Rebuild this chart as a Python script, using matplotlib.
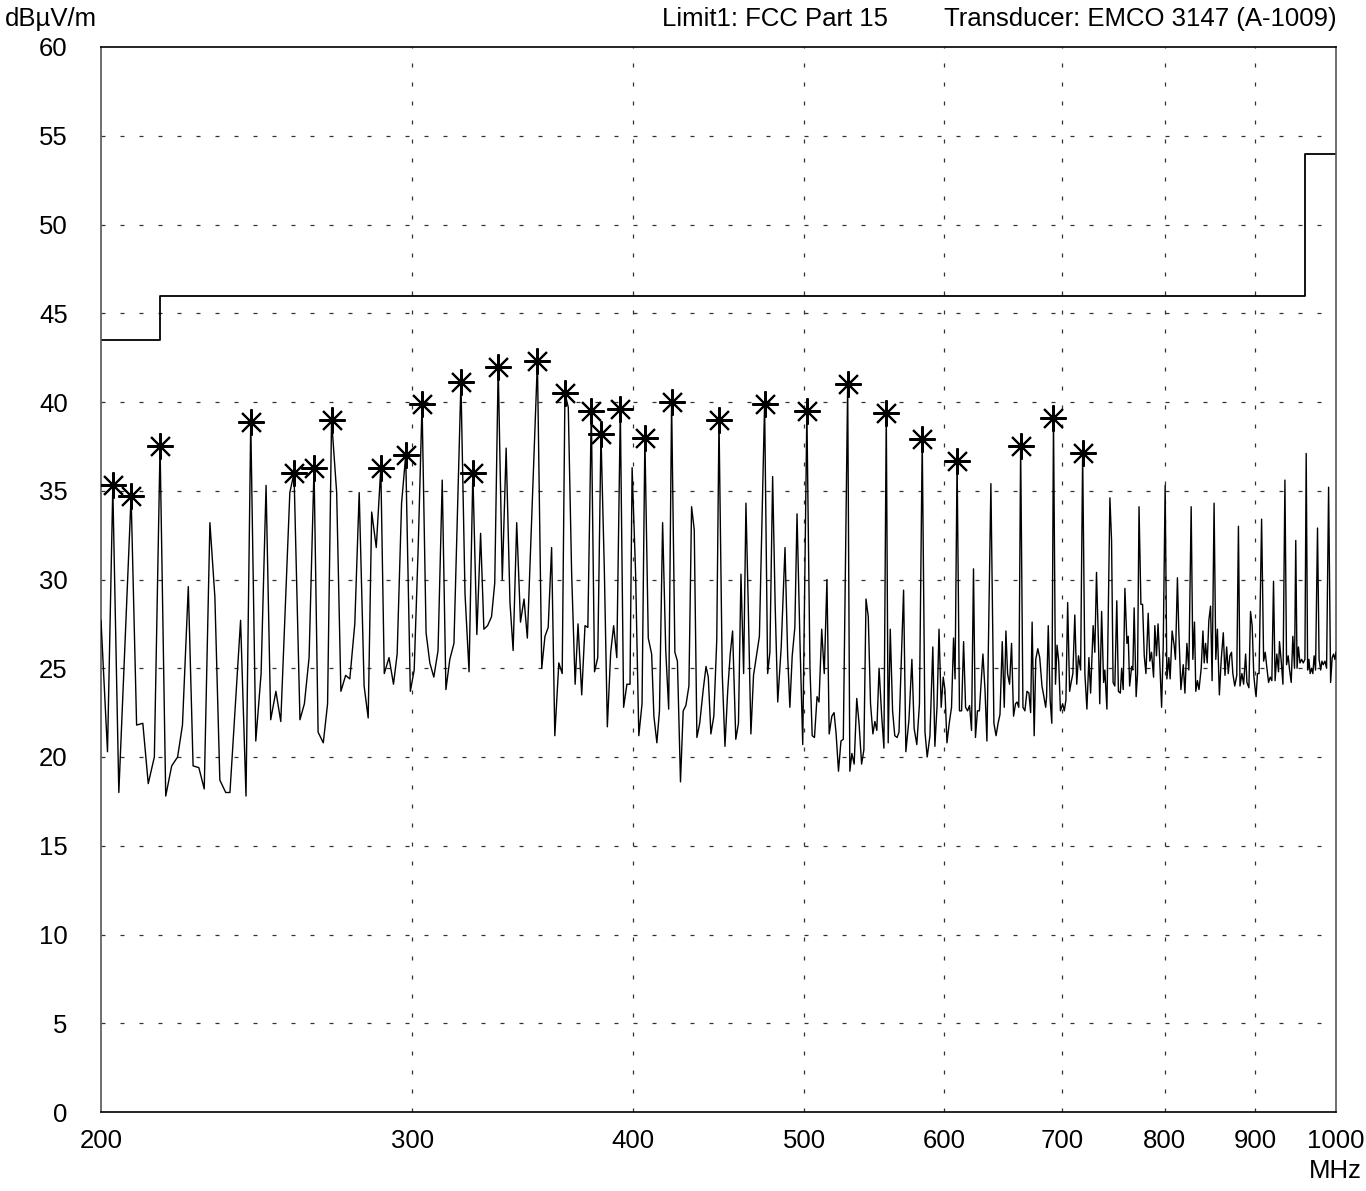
import numpy as np
import matplotlib
matplotlib.use("Agg")
import matplotlib.pyplot as plt
from matplotlib.ticker import FixedLocator, NullLocator, FixedFormatter

plt.rcParams['font.family'] = ['Liberation Sans', 'DejaVu Sans']

# ---- measured trace (MHz, dBuV/m) ----
trace_freq = [
    200.0, 201.7, 203.1, 204.7, 208.0, 209.5, 211.2, 212.7, 214.4, 216.0,
    217.6, 219.3, 221.0, 222.4, 224.1, 225.5, 227.2, 228.8, 230.5, 232.0,
    233.5, 235.3, 236.6, 239.9, 241.6, 243.1, 244.7, 246.4, 248.0, 249.5,
    251.2, 252.8, 255.8, 257.2, 259.2, 260.7, 262.3, 264.0, 265.4, 267.2,
    268.7, 270.1, 271.9, 273.4, 275.1, 276.6, 278.4, 280.0, 281.8, 283.3,
    284.6, 286.3, 288.0, 289.3, 291.1, 292.8, 294.2, 295.9, 297.5, 299.3,
    300.8, 302.4, 303.9, 305.5, 307.0, 308.6, 310.3, 312.0, 313.5, 315.1,
    316.8, 319.7, 321.4, 323.1, 324.7, 326.4, 328.0, 329.4, 331.0, 332.7,
    334.1, 335.6, 337.4, 339.1, 340.8, 342.2, 343.8, 345.5, 347.1, 348.6,
    353.2, 355.2, 356.7, 358.2, 359.8, 361.3, 363.2, 364.8, 366.1, 367.7,
    369.3, 371.0, 372.4, 374.2, 375.8, 377.2, 378.9, 380.5, 382.1, 383.7,
    385.4, 386.9, 388.6, 390.1, 391.7, 393.5, 395.2, 396.9, 398.5, 399.6,
    401.4, 403.1, 404.8, 406.3, 408.1, 409.9, 411.1, 412.7, 414.1, 415.8,
    417.5, 419.1, 420.7, 422.5, 423.9, 425.6, 427.1, 428.6, 430.3, 431.8,
    433.3, 434.8, 436.4, 438.4, 440.0, 441.3, 442.8, 444.5, 446.2, 447.5,
    449.4, 451.0, 452.6, 454.1, 455.5, 457.4, 459.0, 460.5, 462.1, 463.5,
    464.9, 466.5, 468.1, 469.9, 471.7, 474.9, 476.8, 478.2, 479.9, 481.5,
    483.1, 485.3, 487.7, 489.4, 490.8, 492.3, 494.0, 495.4, 497.3, 499.1,
    501.8, 503.8, 505.3, 506.8, 508.5, 509.8, 511.6, 513.3, 515.1, 516.6,
    518.4, 519.9, 521.3, 522.9, 524.6, 526.2, 529.2, 530.7, 532.1, 533.7,
    535.5, 537.1, 538.9, 540.5, 542.0, 543.6, 545.2, 546.9, 548.3, 549.7,
    551.3, 553.2, 554.8, 556.5, 557.9, 559.4, 561.1, 562.7, 564.4, 565.8,
    569.2, 570.9, 573.2, 575.4, 577.1, 579.1, 581.1, 583.2, 585.3, 587.0,
    589.1, 591.3, 592.9, 594.6, 596.1, 597.8, 599.4, 600.7, 602.3, 604.1,
    605.9, 607.5, 608.7, 610.3, 612.2, 613.9, 615.5, 617.1, 618.7, 620.3,
    621.9, 623.5, 625.1, 626.7, 628.3, 631.2, 632.9, 634.5, 637.8, 640.3,
    642.1, 643.8, 645.4, 647.3, 649.0, 650.4, 651.8, 653.5, 655.2, 656.9,
    658.6, 659.9, 661.4, 663.0, 665.0, 666.7, 668.5, 670.2, 671.7, 673.0,
    674.8, 676.2, 678.0, 679.7, 681.7, 683.4, 685.0, 685.8, 687.3, 689.0,
    690.5, 692.0, 693.8, 695.2, 696.7, 698.3, 700.3, 701.8, 703.3, 704.9,
    706.7, 708.1, 709.7, 711.5, 713.3, 714.9, 716.9, 718.8, 720.9, 722.8,
    724.7, 726.3, 728.7, 730.3, 731.9, 734.0, 735.0, 736.8, 738.7, 739.9,
    741.9, 744.8, 746.4, 747.9, 749.6, 751.5, 753.1, 755.0, 756.3, 757.8,
    759.5, 761.5, 762.8, 764.2, 766.2, 767.4, 768.7, 770.7, 772.1, 773.6,
    775.5, 777.2, 778.9, 780.6, 782.9, 784.6, 786.3, 788.4, 789.7, 791.4,
    793.0, 794.7, 796.7, 798.4, 800.4, 802.2, 804.3, 805.6, 807.7, 809.8,
    811.2, 813.3, 814.7, 817.0, 819.5, 821.3, 823.4, 825.5, 828.0, 829.8,
    831.6, 833.0, 834.8, 836.5, 838.9, 840.8, 842.2, 843.7, 845.5, 847.3,
    849.2, 850.9, 853.1, 855.0, 856.8, 859.0, 861.1, 863.4, 865.3, 867.2,
    869.0, 870.8, 872.7, 874.2, 876.4, 878.7, 880.6, 882.4, 884.6, 886.6,
    888.9, 890.4, 892.7, 894.6, 896.5, 898.4, 899.6, 901.1, 902.7, 904.6,
    907.6, 910.0, 911.9, 913.9, 915.9, 917.8, 919.8, 921.8, 923.7, 925.8,
    927.8, 929.0, 931.1, 933.2, 935.6, 937.6, 939.6, 941.3, 943.3, 945.3,
    947.4, 948.9, 950.5, 952.2, 954.1, 956.2, 958.2, 960.3, 961.9, 963.7,
    965.3, 966.9, 968.7, 970.3, 971.9, 973.7, 976.2, 978.2, 980.2, 981.8,
    983.5, 985.7, 987.8, 990.4, 993.0, 995.0, 996.8, 998.5, 1000.0,
]
trace_level = [
    27.7, 20.3, 35.2, 18.0, 34.7, 21.8, 21.9, 18.5, 20.0, 37.5,
    17.8, 19.5, 20.0, 21.8, 29.6, 19.5, 19.4, 18.2, 33.2, 29.0,
    18.7, 18.0, 18.0, 27.7, 17.8, 38.9, 20.9, 24.7, 35.3, 22.1,
    23.7, 22.0, 34.9, 36.0, 22.1, 23.0, 25.6, 36.3, 21.4, 20.8,
    23.0, 39.0, 34.9, 23.7, 24.6, 24.4, 27.5, 34.9, 24.0, 22.2,
    33.8, 31.8, 36.3, 24.7, 25.6, 24.1, 25.8, 34.3, 37.0, 23.7,
    24.9, 31.9, 39.9, 27.0, 25.3, 24.5, 26.0, 35.6, 23.8, 25.5,
    26.4, 41.1, 29.2, 24.8, 36.0, 26.9, 32.6, 27.2, 27.4, 27.9,
    29.8, 42.0, 30.0, 37.4, 28.7, 26.0, 33.2, 27.6, 28.9, 26.7,
    42.3, 25.0, 26.8, 27.3, 31.8, 21.2, 25.3, 24.7, 40.5, 39.7,
    30.4, 24.1, 27.5, 23.5, 27.4, 27.3, 39.5, 24.8, 25.6, 38.2,
    30.5, 21.7, 25.9, 27.4, 25.6, 39.6, 22.8, 24.1, 24.1, 36.3,
    30.4, 21.2, 23.0, 38.0, 26.7, 25.8, 22.3, 20.8, 22.6, 33.2,
    26.0, 22.7, 40.0, 25.9, 25.4, 18.6, 22.6, 22.9, 24.0, 34.1,
    32.8, 21.1, 21.9, 23.8, 25.1, 24.5, 21.3, 22.3, 26.6, 39.0,
    24.7, 20.6, 23.7, 25.8, 27.1, 21.0, 21.9, 30.3, 24.7, 34.3,
    28.5, 21.3, 24.6, 25.7, 26.8, 39.9, 24.7, 25.9, 35.8, 28.5,
    23.1, 26.2, 31.8, 25.7, 22.8, 25.7, 27.3, 33.7, 26.5, 20.7,
    39.5, 25.1, 21.2, 21.1, 23.4, 23.1, 27.2, 24.7, 30.0, 21.3,
    22.3, 22.5, 21.3, 19.2, 20.9, 21.0, 41.0, 19.2, 20.2, 19.6,
    23.3, 21.9, 19.6, 20.4, 28.9, 27.9, 23.0, 21.3, 22.0, 21.5,
    25.0, 22.3, 20.5, 39.4, 20.8, 27.2, 22.6, 21.2, 21.1, 21.4,
    29.4, 20.3, 22.1, 25.5, 21.6, 20.7, 23.0, 37.9, 21.4, 20.0,
    21.2, 26.2, 20.6, 22.9, 27.2, 22.8, 24.5, 23.8, 20.8, 21.9,
    22.8, 26.7, 24.4, 36.7, 22.6, 22.6, 26.5, 22.8, 22.6, 22.9,
    21.5, 30.6, 21.1, 22.6, 22.6, 25.8, 23.8, 20.9, 35.4, 21.9,
    21.2, 21.9, 22.4, 26.5, 22.8, 27.1, 24.7, 24.1, 26.4, 22.3,
    23.0, 23.1, 22.8, 37.5, 22.8, 22.6, 23.7, 23.6, 22.5, 27.6,
    21.2, 25.5, 26.1, 25.6, 24.0, 23.4, 22.8, 23.4, 27.4, 23.2,
    21.9, 39.1, 24.1, 26.3, 25.4, 22.6, 23.0, 22.6, 23.2, 28.7,
    23.7, 24.2, 24.7, 28.0, 24.1, 25.7, 24.9, 37.1, 24.7, 22.7,
    25.6, 23.6, 27.4, 25.9, 30.4, 25.9, 23.0, 28.2, 24.2, 24.9,
    22.7, 34.6, 32.2, 24.2, 24.0, 28.8, 23.7, 23.6, 25.0, 23.8,
    29.5, 26.4, 26.8, 24.0, 25.1, 24.9, 28.4, 23.4, 24.7, 34.1,
    28.6, 28.6, 25.7, 24.7, 28.1, 25.4, 25.9, 24.5, 27.4, 25.7,
    27.5, 25.5, 22.8, 26.3, 35.3, 24.4, 25.6, 24.4, 27.1, 26.3,
    25.5, 30.1, 27.2, 23.8, 25.2, 23.6, 26.4, 24.9, 34.1, 25.5,
    27.6, 23.7, 24.3, 23.8, 25.0, 27.1, 25.3, 26.4, 25.3, 27.7,
    28.5, 24.3, 34.3, 25.5, 27.2, 23.5, 25.5, 27.0, 24.6, 26.2,
    24.7, 25.7, 25.9, 24.7, 24.0, 24.6, 33.0, 24.0, 24.7, 24.1,
    25.8, 24.2, 23.9, 28.2, 27.4, 24.6, 24.0, 23.4, 24.7, 24.7,
    33.4, 25.4, 25.9, 25.0, 24.2, 24.5, 24.3, 29.9, 24.3, 25.8,
    24.8, 26.5, 25.4, 24.1, 35.6, 25.2, 25.7, 24.9, 24.2, 26.8,
    25.0, 32.2, 25.0, 26.2, 25.3, 25.5, 25.3, 25.5, 37.1, 24.9,
    25.5, 24.7, 25.0, 24.7, 25.7, 24.9, 32.9, 25.5, 24.9, 25.4,
    25.2, 25.4, 25.0, 35.2, 24.2, 25.6, 25.8, 25.5, 25.9,
]

# ---- marked peaks ----
peak_freq = [203.1, 208.0, 216.0, 243.1, 257.2, 264.0, 270.1, 288.0, 297.5, 303.9,
             319.7, 324.7, 335.6, 353.2, 366.1, 378.9, 383.7, 393.5, 406.3, 420.7,
             447.5, 474.9, 501.8, 529.2, 556.5, 583.2, 610.3, 663.0, 692.0, 718.8]
peak_level = [35.3, 34.7, 37.5, 38.9, 36.0, 36.3, 39.0, 36.3, 37.0, 39.9,
              41.1, 36.0, 42.0, 42.3, 40.5, 39.5, 38.2, 39.6, 38.0, 40.0,
              39.0, 39.9, 39.5, 41.0, 39.4, 37.9, 36.7, 37.5, 39.1, 37.1]

# ---- FCC Part 15 limit ----
limit_freq = [200, 216, 216, 960, 960, 1000]
limit_level = [43.5, 43.5, 46, 46, 54, 54]

x_ticks = [200, 300, 400, 500, 600, 700, 800, 900, 1000]
y_ticks = list(range(0, 61, 5))

FS = 18.5

fig = plt.figure(figsize=(13.66, 11.91), dpi=100)
ax = fig.add_axes([101 / 1366, 1 - 1112 / 1191, 1235 / 1366, 1065 / 1191])

ax.set_xscale('log')
ax.set_xlim(200, 1000)
ax.set_ylim(0, 60)

# dotted grid
for xv in x_ticks[1:-1]:
    ax.axvline(xv, color='#333333', lw=0.9, ls=(0, (3.2, 12)), zorder=0)
for yv in y_ticks[1:-1]:
    ax.axhline(yv, color='#333333', lw=0.9, ls=(0, (3.2, 12)), zorder=0)

ax.plot(limit_freq, limit_level, color='black', lw=1.3, zorder=2)
ax.plot(trace_freq, trace_level, color='black', lw=1.0, zorder=3)
ax.plot(peak_freq, peak_level, ls='none', marker=(8, 2, 0), ms=19,
        mec='black', mew=1.5, zorder=4)

ax.xaxis.set_major_locator(FixedLocator(x_ticks))
ax.xaxis.set_major_formatter(FixedFormatter([str(v) for v in x_ticks]))
ax.xaxis.set_minor_locator(NullLocator())
ax.set_yticks(y_ticks)
ax.tick_params(axis='both', length=0, labelsize=FS)
ax.tick_params(axis='x', pad=12)
ax.tick_params(axis='y', pad=24)

for sp in ax.spines.values():
    sp.set_linewidth(1.2)
ax.spines['left'].set_color('#555555')
ax.spines['right'].set_color('#555555')

fig.text(5 / 1366, 1 - 19 / 1191, 'dB\u00b5V/m', fontsize=FS, ha='left', va='center')
fig.text(888 / 1366, 1 - 19 / 1191, 'Limit1: FCC Part 15', fontsize=FS, ha='right', va='center')
fig.text(1337 / 1366, 1 - 19 / 1191, 'Transducer: EMCO 3147 (A-1009)', fontsize=FS,
         ha='right', va='center')
fig.text(1362 / 1366, 1 - 1171 / 1191, 'MHz', fontsize=FS, ha='right', va='center')

fig.savefig('out.png', dpi=100)
